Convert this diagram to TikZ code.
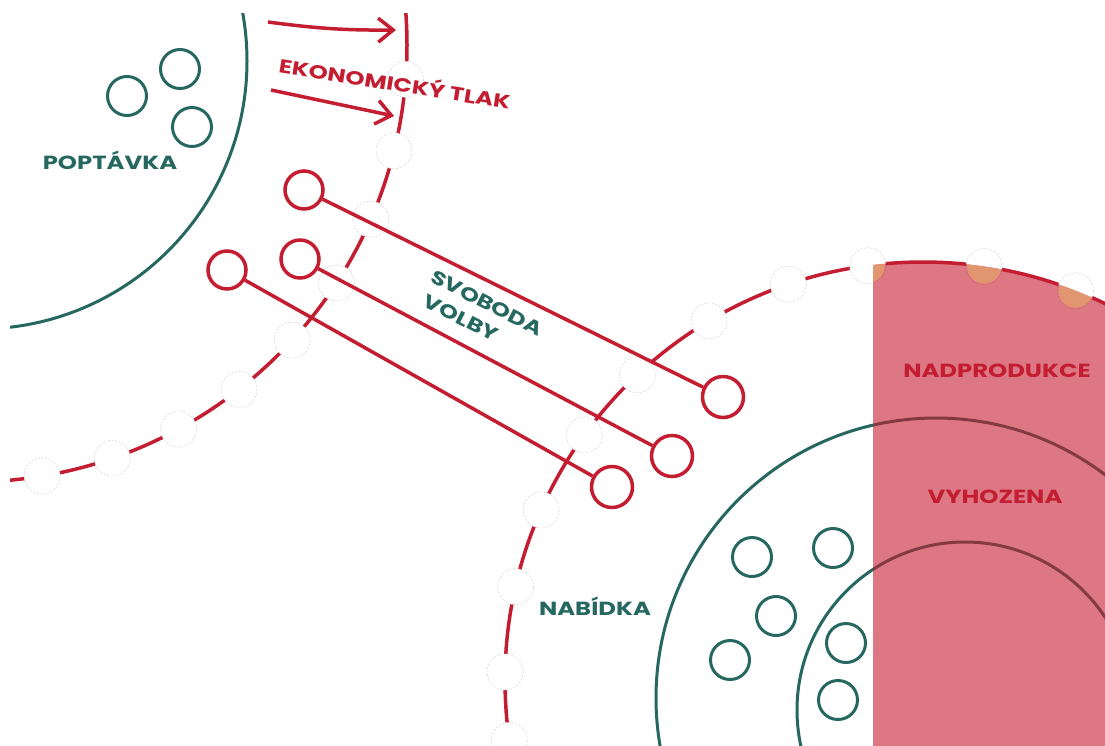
\documentclass[tikz,border=0pt]{standalone}
\usepackage{fontspec}
\setmainfont{Poppins}
\newfontfamily\lblfont{Poppins}[FakeStretch=1.28]
\usetikzlibrary{arrows.meta,calc}
\definecolor{tealc}{RGB}{38,104,96}
\definecolor{redc}{RGB}{196,28,48}
\definecolor{beadorange}{RGB}{226,150,112}
\begin{document}
\begin{tikzpicture}[x=1pt,y=-1pt,
  tealline/.style={draw=tealc,line width=3pt},
  redline/.style={draw=redc,line width=3.5pt},
  dot/.style={circle,draw=tealc,line width=3pt,minimum size=39pt,inner sep=0pt},
  knob/.style={circle,draw=redc,line width=3.5pt,minimum size=38pt,inner sep=0pt},
  bigknob/.style={knob,minimum size=41pt},
  beadst/.style={fill=white,draw=gray!30,line width=0.6pt,dash pattern=on 2pt off 1.5pt},
  lbl/.style={font=\lblfont\bfseries\fontsize{19}{25}\selectfont,inner sep=0pt},
  teallbl/.style={lbl,text=tealc},
  redlbl/.style={lbl,text=redc},
  arr/.style={redline,-{Straight Barb[length=15pt,width=24pt,line width=3.5pt]}}]
\useasboundingbox (0,0) rectangle (1105,745);
\coordinate (cd) at (-21,61);
\coordinate (c1) at (-30,45);
\coordinate (c2) at (923,680);
\coordinate (cs) at (936,698);
\coordinate (ci) at (965,710);
\begin{scope}
\clip (10,13) rectangle (1105,745);
% demand circle
\draw[tealline] (cd) circle[radius=268];
\node[dot] (d1) at (127,96) {};
\node[dot] (d2) at (180,69) {};
\node[dot] (d3) at (192,127) {};
% red dashed circles
\draw[redline] (c1) circle[radius=437];
\draw[redline] (c2) circle[radius=418];
\foreach \a in {4.5,14,23.5,33,42.5,52,61.5,71,80.5}
  \path[beadst] ($(c1)+(\a:437)$) circle[radius=18];
\foreach \a in {171.7,181.1,192.9,204,215.9,226.9,239.2,251.2,262.4,278.4,291.4}
  \path[beadst] ($(c2)+(\a:418)$) circle[radius=18];
% supply circles
\draw[tealline] (cs) circle[radius=280];
\draw[tealline] (ci) circle[radius=168];
\node[dot] (s1) at (752,557) {};
\node[dot] (s2) at (833,548) {};
\node[dot] (s3) at (776,616) {};
\node[dot] (s4) at (730,660) {};
\node[dot] (s5) at (846,643) {};
\node[dot] (s6) at (838,700) {};
% overproduction area
\begin{scope}
\clip (873,0) rectangle (1110,750);
\fill[redc,fill opacity=0.6] (c2) circle[radius=418];
\clip (c2) circle[radius=418];
\foreach \a in {262.4,278.4,291.4}
  \fill[beadorange] ($(c2)+(\a:418)$) circle[radius=17];
\end{scope}
% freedom of choice connectors
\node[knob] (a1) at (304,190) {};
\node[bigknob] (a2) at (723,397) {};
\node[knob] (b1) at (300,259) {};
\node[bigknob] (b2) at (672,456) {};
\node[knob] (k1) at (227,270) {};
\node[bigknob] (k2) at (612,487) {};
\draw[redline] (a1) -- (a2);
\draw[redline] (b1) -- (b2);
\draw[redline] (k1) -- (k2);
% arrows
\coordinate (p1s) at (268,22);
\coordinate (p1e) at (396,30);
\coordinate (p2s) at (271,90);
\coordinate (p2e) at (394,116);
\draw[arr] (p1s) to[bend right=4] (p1e);
\draw[arr] (p2s) -- (p2e);
% labels
\node[teallbl] (poptavka) at (110,160) {POPTÁVKA};
\node[redlbl,rotate=-9] (tlak) at (395,82) {EKONOMICKÝ TLAK};
\node[teallbl,rotate=-27] (svoboda) at (487,303) {SVOBODA};
\node[teallbl,rotate=-27] (volby) at (461,318) {VOLBY};
\node[teallbl] (nabidka) at (595,606) {NABÍDKA};
\node[redlbl] (nadpr) at (997,371) {NADPRODUKCE};
\node[redlbl] (vyhoz) at (995,497) {VYHOZENA};
\end{scope}
\end{tikzpicture}
\end{document}
